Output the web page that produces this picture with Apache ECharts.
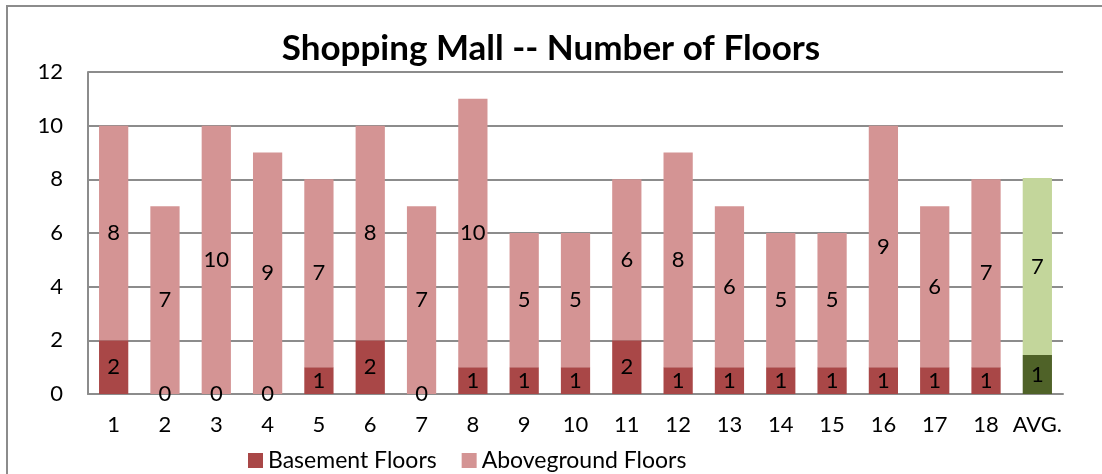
<!DOCTYPE html>
<html>
<head>
<meta charset="utf-8">
<script src="https://cdn.jsdelivr.net/npm/echarts@6/dist/echarts.min.js"></script>
<style>
  html, body { margin: 0; padding: 0; background: #fff; }
  #chart { width: 1102px; height: 474px; }
</style>
</head>
<body>
<div id="chart"></div>
<script>
// categories along the x axis
const malls = ["1", "2", "3", "4", "5", "6", "7", "8", "9", "10", "11", "12", "13", "14", "15", "16", "17", "18", "AVG."];
// floors below ground
const basementFloors = [2, 0, 0, 0, 1, 2, 0, 1, 1, 1, 2, 1, 1, 1, 1, 1, 1, 1, 1.45];
// floors above ground
const abovegroundFloors = [8, 7, 10, 9, 7, 8, 7, 10, 5, 5, 6, 8, 6, 5, 5, 9, 6, 7, 6.6];

const FONT = "Lato";
const darkRed = "#A94747";
const lightRed = "#D49494";
const avgDark = "#4F6228";
const avgLight = "#C3D69B";

const chart = echarts.init(document.getElementById("chart"));

function withAvgColor(values, normal, avg) {
  return values.map((v, i) => ({
    value: v,
    itemStyle: { color: malls[i] === "AVG." ? avg : normal }
  }));
}

const barLabel = {
  show: true,
  position: "inside",
  color: "#000",
  fontFamily: FONT,
  fontSize: 22,
  formatter: p => Math.round(p.value)
};

chart.setOption({
  animation: false,
  textStyle: { fontFamily: FONT },
  title: {
    text: "Shopping Mall -- Number of Floors",
    left: "center",
    top: 26,
    textStyle: { fontFamily: FONT, fontSize: 35, fontWeight: "bold", color: "#000" }
  },
  graphic: [{
    type: "rect",
    shape: { x: 7, y: 6, width: 1200, height: 600 },
    style: { fill: "none", stroke: "#8c8c8c", lineWidth: 2 },
    silent: true
  }],
  legend: {
    left: 243,
    top: 444,
    itemWidth: 15,
    itemHeight: 15,
    itemGap: 25,
    icon: "rect",
    textStyle: { fontFamily: FONT, fontSize: 23, color: "#000" },
    data: [
      { name: "Basement Floors", itemStyle: { color: darkRed } },
      { name: "Aboveground Floors", itemStyle: { color: lightRed } }
    ]
  },
  grid: { left: 88, right: 39, top: 72, bottom: 80 },
  xAxis: {
    type: "category",
    data: malls,
    axisLine: { lineStyle: { color: "#8c8c8c", width: 2 } },
    axisTick: { show: false },
    axisLabel: { color: "#000", fontSize: 22, fontFamily: FONT, margin: 20, interval: 0 }
  },
  yAxis: {
    type: "value",
    min: 0,
    max: 12,
    interval: 2,
    axisLine: { show: true, lineStyle: { color: "#8c8c8c", width: 2 } },
    axisTick: { show: false },
    splitLine: { lineStyle: { color: "#8c8c8c", width: 2 } },
    axisLabel: { color: "#000", fontSize: 22, fontFamily: FONT, margin: 25 }
  },
  series: [
    {
      name: "Basement Floors",
      type: "bar",
      stack: "floors",
      barWidth: "57%",
      color: darkRed,
      label: barLabel,
      data: withAvgColor(basementFloors, darkRed, avgDark)
    },
    {
      name: "Aboveground Floors",
      type: "bar",
      stack: "floors",
      barWidth: "57%",
      color: lightRed,
      label: barLabel,
      data: withAvgColor(abovegroundFloors, lightRed, avgLight)
    }
  ]
});
</script>
</body>
</html>
